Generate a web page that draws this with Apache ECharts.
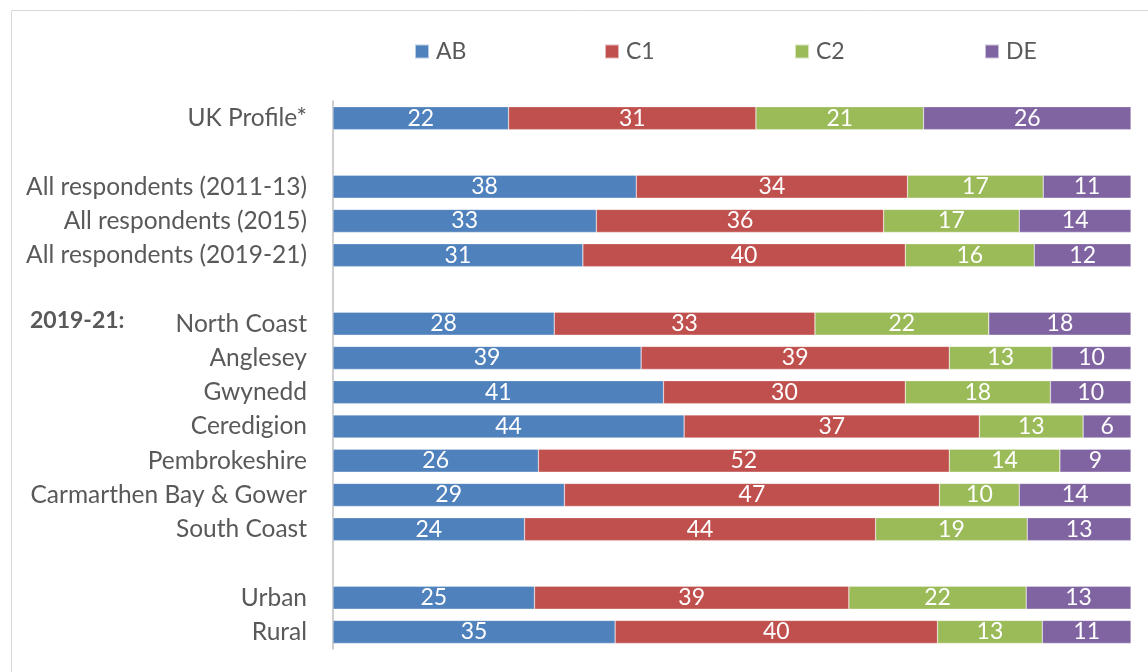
<!DOCTYPE html>
<html>
<head>
<meta charset="utf-8">
<script src="https://cdn.jsdelivr.net/npm/echarts@6/dist/echarts.min.js"></script>
<style>html,body{margin:0;padding:0;background:#fff}#c{width:1148px;height:672px}</style>
</head>
<body>
<div id="c"></div>
<script>
const categories = ['UK Profile*', '', 'All respondents (2011-13)', 'All respondents (2015)', 'All respondents (2019-21)', ' ', 'North Coast', 'Anglesey', 'Gwynedd', 'Ceredigion', 'Pembrokeshire', 'Carmarthen Bay & Gower', 'South Coast', '  ', 'Urban', 'Rural'];
const seriesNames = ['AB', 'C1', 'C2', 'DE'];
const AB = [22, null, 38, 33, 31, null, 28, 39, 41, 44, 26, 29, 24, null, 25, 35];
const C1 = [31, null, 34, 36, 40, null, 33, 39, 30, 37, 52, 47, 44, null, 39, 40];
const C2 = [21, null, 17, 17, 16, null, 22, 13, 18, 13, 14, 10, 19, null, 22, 13];
const DE = [26, null, 11, 14, 12, null, 18, 10, 10, 6, 9, 14, 13, null, 13, 11];
const colors = ['#4F81BD', '#C0504D', '#9BBB59', '#8064A2'];
const raw = [AB, C1, C2, DE];

const FONT = 'Lato';
const totals = categories.map((c, i) => raw.reduce((s, a) => s + (a[i] || 0), 0));
const series = raw.map((arr, k) => ({
  name: seriesNames[k],
  type: 'bar',
  stack: 'total',
  barWidth: 23,
  itemStyle: { color: colors[k], borderColor: 'rgba(255,255,255,0.6)', borderWidth: 0.5 },
  label: {
    show: true, position: 'inside', color: '#fff', fontSize: 23, fontFamily: FONT,
    formatter: p => arr[p.dataIndex] == null ? '' : String(arr[p.dataIndex])
  },
  data: arr.map((v, i) => v == null ? null : v / totals[i] * 100)
}));

const legendLefts = [409, 599, 789, 979];
const legends = seriesNames.map((n, k) => ({
  data: [n], left: legendLefts[k], top: 35, itemWidth: 14, itemHeight: 14, itemGap: 0,
  icon: 'rect', selectedMode: false,
  textStyle: { fontSize: 23, color: '#595959', fontFamily: FONT, padding: [0, 0, 0, 2] }
}));

const chart = echarts.init(document.getElementById('c'), null, { renderer: 'canvas' });
chart.setOption({
  animation: false,
  color: colors,
  legend: legends,
  grid: { left: 333, right: 17, top: 101, bottom: 23, containLabel: false },
  xAxis: { type: 'value', min: 0, max: 100, show: false },
  yAxis: {
    type: 'category', data: categories, inverse: true,
    axisLine: { show: true, lineStyle: { color: '#BFBFBF', width: 1.5 } },
    axisTick: { show: false },
    axisLabel: { fontSize: 24.5, color: '#595959', fontFamily: FONT, margin: 26 }
  },
  graphic: [
    { type: 'rect', left: 9, top: 8, shape: { width: 1200, height: 700 }, style: { fill: 'none', stroke: '#D9D9D9', lineWidth: 1 }, silent: true },
    { type: 'text', left: 30, top: 309, style: { text: '2019-21:', font: 'bold 23px ' + FONT, fill: '#595959' } }
  ],
  series: series
});
</script>
</body>
</html>
